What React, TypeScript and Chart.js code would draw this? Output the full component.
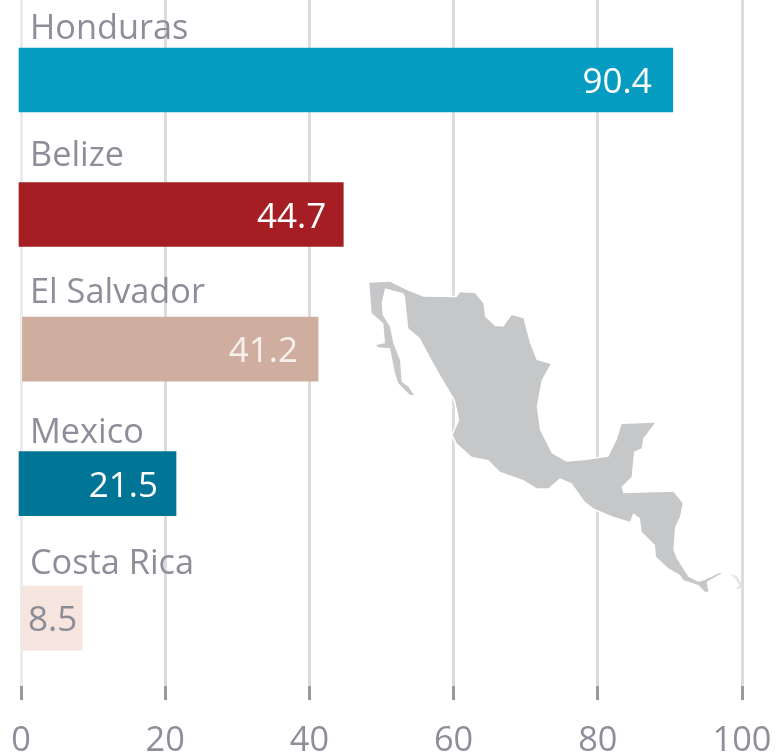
import React, { useEffect, useRef } from "react";
import { Chart, registerables } from "chart.js";

Chart.register(...registerables);

const categories = ["Honduras", "Belize", "El Salvador", "Mexico", "Costa Rica"];
const values = [90.4, 44.7, 41.2, 21.5, 8.5];
const barStarts = [-0.28, -0.28, 0, -0.28, 0];
const barColors = ["#069CC2", "#A51E24", "#D0AE9F", "#007595", "#F6E5DF"];
const valueColors = ["#FFFFFF", "#FFFFFF", "#F7F1EE", "#FFFFFF", "#8C8C96"];
const xTicks = [0, 20, 40, 60, 80, 100];
const labelLifts = [51, 58, 56, 50, 54];
const valueInsets = [21, 17, 20, 18, 5];

const FONT = '34.3px "Open Sans"';
const VALUE_FONT = '35px "Open Sans"';
const LABEL_COLOR = "#8E8E9A";

const MAP_MAIN =
  "M88,68 L150,65 L200,90 L250,110 L350,112 L360,97 L405,100 L430,130 L435,170 L465,198 L490,200 L515,165 L550,175 L570,250 L590,300 L632,312 L605,360 L590,440 L600,510 L635,580 L680,605 L740,600 L805,590 L830,540 L845,492 L945,488 L910,535 L905,565 L882,575 L875,650 L845,680 L850,700 L1000,695 L1028,730 L1020,770 L1005,800 L1000,870 L1010,895 L1045,950 L1075,965 L1095,960 L1140,938 L1145,940 L1100,965 L1105,995 L1095,995 L1075,975 L1030,960 L1020,945 L985,925 L948,890 L945,855 L905,815 L900,775 L880,760 L870,785 L820,770 L760,745 L735,725 L695,670 L660,655 L625,685 L590,685 L550,660 L480,635 L445,600 L395,590 L350,550 L338,525 L358,480 L345,420 L300,345 L275,300 L240,235 L205,205 L195,110 L190,100 L135,85 L125,130 L128,165 L150,200 L160,250 L180,300 L185,365 L205,380 L222,405 L210,405 L175,370 L165,340 L150,265 L115,262 L108,255 L135,250 L130,190 L95,160 Z";
const MAP_ISLET = "M1170,942 L1190,948 L1205,970 L1205,985 L1188,988 L1198,975 L1185,955 Z";

const labelsPlugin = {
  id: "barLabels",
  afterDatasetsDraw(chart: any) {
    const { ctx, scales } = chart;
    ctx.save();
    ctx.textBaseline = "middle";
    categories.forEach((name, i) => {
      const yc = scales.y.getPixelForValue(i);
      ctx.font = FONT;
      ctx.fillStyle = LABEL_COLOR;
      ctx.textAlign = "left";
      ctx.fillText(name, 30, yc - labelLifts[i]);
      ctx.font = VALUE_FONT;
      ctx.fillStyle = valueColors[i];
      ctx.textAlign = "right";
      ctx.fillText(values[i].toFixed(1), scales.x.getPixelForValue(values[i]) - valueInsets[i], yc + 3);
    });
    ctx.restore();
  },
};

export default function App() {
  const ref = useRef<HTMLCanvasElement>(null);
  useEffect(() => {
    const chart = new Chart(ref.current!, {
      type: "bar",
      data: {
        datasets: [
          {
            data: values.map((v, i) => ({ x: [barStarts[i], v], y: i })) as any,
            backgroundColor: barColors,
            barThickness: 64,
            borderWidth: 0,
            clip: false as any,
          },
        ],
      },
      options: {
        indexAxis: "y",
        animation: false,
        responsive: false,
        parsing: { xAxisKey: "x", yAxisKey: "y" } as any,
        layout: { padding: { left: 21, right: 35, top: 0, bottom: 0 } },
        plugins: { legend: { display: false }, tooltip: { enabled: false } },
        scales: {
          x: {
            type: "linear",
            min: 0,
            max: 100,
            afterBuildTicks: (s: any) => {
              s.ticks = xTicks.map((value) => ({ value }));
            },
            afterFit: (s: any) => {
              s.height = 68;
              s.paddingLeft = 0;
              s.paddingRight = 0;
            },
            border: { display: false },
            grid: {
              lineWidth: 3,
              color: (c: any) => (c.tick && c.tick.value === 0 ? "#EBEBEB" : "#DCDCDC"),
              tickColor: "#9A9A9A",
              tickLength: 14,
              tickWidth: 3,
            },
            ticks: {
              maxRotation: 0,
              autoSkip: false,
              padding: 21,
              color: LABEL_COLOR,
              font: { family: "Open Sans", size: 34.3 },
            },
          },
          y: {
            type: "linear",
            reverse: true,
            offset: false,
            min: -0.595,
            max: 4.505,
            display: false,
          },
        },
      },
      plugins: [labelsPlugin],
    } as any);
    return () => chart.destroy();
  }, []);

  return (
    <div style={{ position: "absolute", left: 0, top: 0, width: 777, height: 754, background: "#fff", overflow: "hidden", filter: "blur(0.6px)" }}>
      <canvas ref={ref} width={777} height={754} style={{ display: "block" }} />
      <svg
        viewBox="0 0 1260 1050"
        width={420}
        height={350}
        style={{ position: "absolute", left: 340, top: 260 }}
      >
        <path d={MAP_MAIN} fill="#C6C7C9" stroke="#FFFFFF" strokeWidth={9} paintOrder="stroke" strokeLinejoin="round" />
        <path d={MAP_ISLET} fill="#E4E4E5" />
      </svg>
    </div>
  );
}
